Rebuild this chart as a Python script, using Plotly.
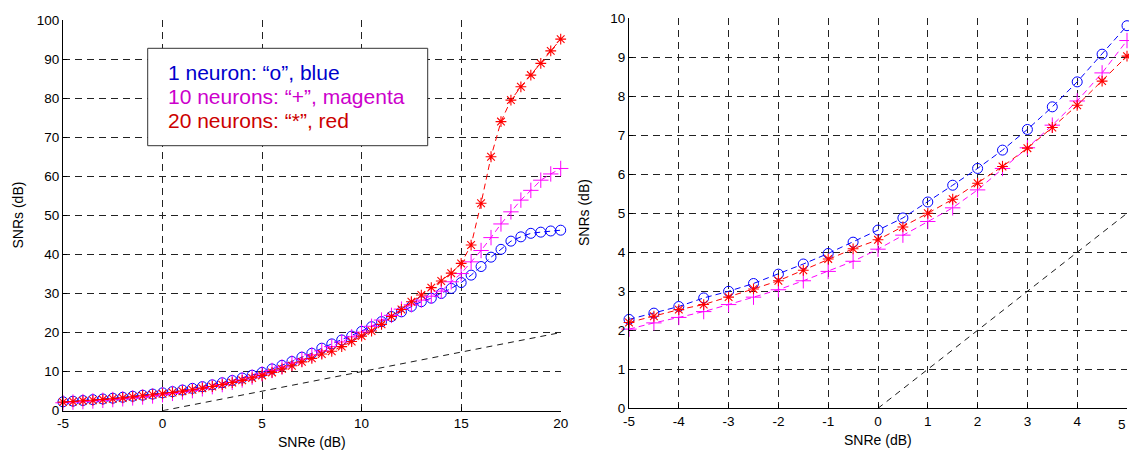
import plotly.graph_objects as go

# ---------------- data ----------------
snre = [-5, -4.5, -4, -3.5, -3, -2.5, -2, -1.5, -1, -0.5, 0, 0.5, 1, 1.5, 2, 2.5, 3, 3.5, 4, 4.5, 5,
        5.5, 6, 6.5, 7, 7.5, 8, 8.5, 9, 9.5, 10, 10.5, 11, 11.5, 12, 12.5, 13, 13.5, 14, 14.5, 15,
        15.5, 16, 16.5, 17, 17.5, 18, 18.5, 19, 19.5, 20]

snrs_1 = [2.28, 2.44, 2.61, 2.83, 3.00, 3.20, 3.44, 3.70, 3.97, 4.26, 4.57, 4.88, 5.29, 5.72, 6.15, 6.62, 7.15, 7.73, 8.37, 9.08, 9.81,
          10.7, 11.6, 12.6, 13.7, 14.7, 16.0, 17.1, 18.1, 19.1, 20.3, 21.5, 22.8, 24.1, 25.3, 26.7, 27.9, 28.8, 30.0, 31.3, 32.8,
          34.7, 36.9, 39.3, 41.3, 43.4, 44.5, 45.4, 45.7, 46.0, 46.2]

snrs_10 = [2.03, 2.19, 2.33, 2.48, 2.66, 2.85, 3.04, 3.27, 3.51, 3.77, 4.08, 4.44, 4.79, 5.14, 5.60, 6.15, 6.68, 7.26, 7.88, 8.60, 9.43,
           10.3, 11.2, 12.2, 13.2, 14.3, 15.3, 16.4, 17.6, 18.9, 20.1, 21.6, 23.2, 24.4, 26.0, 27.1, 28.3, 29.3, 30.6, 33.0, 35.1,
           38.1, 41.0, 44.3, 47.8, 50.9, 53.9, 56.4, 59.0, 60.6, 62.0]

snrs_20 = [2.20, 2.36, 2.53, 2.66, 2.85, 3.06, 3.27, 3.54, 3.83, 4.09, 4.32, 4.65, 5.00, 5.36, 5.77, 6.20, 6.67, 7.20, 7.77, 8.39, 9.03,
           9.8, 10.7, 11.5, 12.5, 13.4, 14.5, 15.2, 16.4, 17.7, 19.1, 20.4, 22.1, 24.1, 25.9, 27.9, 29.6, 31.5, 33.2, 35.2, 37.7,
           42.4, 53.1, 65.0, 74.0, 79.5, 82.9, 85.9, 88.9, 92.1, 95.1]

ref_x = [0, 20]
ref_y = [0, 20]

zoom_n = 21  # points with SNRe <= 5 shown in the right panel

x1_ticks = [-5, 0, 5, 10, 15, 20]
y1_ticks = [0, 10, 20, 30, 40, 50, 60, 70, 80, 90, 100]
x2_ticks = [-5, -4, -3, -2, -1, 0, 1, 2, 3, 4, 5]
y2_ticks = [0, 1, 2, 3, 4, 5, 6, 7, 8, 9, 10]

legend_lines = ['1 neuron: \u201co\u201d, blue',
                '10 neurons: \u201c+\u201d, magenta',
                '20 neurons: \u201c*\u201d, red']
legend_colors = ['#0000CC', '#CC00CC', '#CC0000']

# ---------------- figure ----------------
W, H = 1129, 450
FONT = 'Liberation Sans, Arial, sans-serif'

def px_x(p):
    return p / W

def px_y(p):
    return (H - p) / H

def labels(vals):
    return [str(v) for v in vals]

fig = go.Figure()

series = [
    (snrs_1, '#0000FF', dict(symbol='circle-open', size=10, line=dict(width=1, color='#0000FF'))),
    (snrs_10, '#FF00FF', dict(symbol='cross-thin-open', size=11, line=dict(width=1, color='#FF00FF'))),
    (snrs_20, '#FF0000', dict(symbol='asterisk-open', size=9, line=dict(width=1.1, color='#FF0000'))),
]

for axn, n in (('', len(snre)), ('2', zoom_n)):
    fig.add_trace(go.Scatter(x=ref_x, y=ref_y, mode='lines',
                             line=dict(color='black', width=0.9, dash='6px,5px'),
                             xaxis='x' + axn, yaxis='y' + axn, showlegend=False))
    for ys, col, mk in series:
        fig.add_trace(go.Scatter(x=snre[:n], y=ys[:n], mode='lines+markers',
                                 line=dict(color=col, width=1, dash='6px,4px'),
                                 marker=mk, cliponaxis=False,
                                 xaxis='x' + axn, yaxis='y' + axn, showlegend=False))

axis_common = dict(showline=True, linecolor='black', linewidth=1, mirror=False,
                   ticks='inside', ticklen=4, tickcolor='black', automargin=False,
                   showgrid=True, gridcolor='#222222', gridwidth=1, griddash='7px,5px',
                   zeroline=False, tickfont=dict(family=FONT, size=13.5, color='black'))

fig.update_layout(
    width=W, height=H,
    margin=dict(l=0, r=0, t=0, b=0),
    paper_bgcolor='white', plot_bgcolor='white',
    font=dict(family=FONT, color='black'),
    xaxis=dict(axis_common, domain=[px_x(63), px_x(560.7)], range=[-5, 20],
               tickvals=x1_ticks, ticktext=labels(x1_ticks), anchor='y'),
    yaxis=dict(axis_common, domain=[px_y(410.7), px_y(20)], range=[0, 100],
               tickvals=y1_ticks, ticktext=labels(y1_ticks), anchor='x'),
    xaxis2=dict(axis_common, domain=[px_x(629), px_x(1127)], range=[-5, 5],
                tickvals=x2_ticks, ticktext=labels(x2_ticks), anchor='y2'),
    yaxis2=dict(axis_common, domain=[px_y(408.3), px_y(18.3)], range=[0, 10],
                tickvals=y2_ticks, ticktext=labels(y2_ticks), anchor='x2'),
)

# last right-panel tick label, kept fully inside the page edge
fig.add_annotation(text=labels(x2_ticks)[-1], x=px_x(1128), xref='paper', y=px_y(424), yref='paper',
                   xanchor='right', yanchor='middle', showarrow=False,
                   font=dict(family=FONT, size=13.5, color='black'))

# axis titles
titles = [
    ('SNRe (dB)', px_x(311.5), px_y(442), 0),
    ('SNRs (dB)', px_x(17), px_y(215.5), -90),
    ('SNRe (dB)', px_x(878), px_y(440), 0),
    ('SNRs (dB)', px_x(584), px_y(213), -90),
]
for txt, x, y, ang in titles:
    fig.add_annotation(text=txt, x=x, y=y, xref='paper', yref='paper',
                       xanchor='center', yanchor='middle', showarrow=False,
                       textangle=ang, font=dict(family=FONT, size=14, color='black'))

# legend box (text box)
fig.add_shape(type='rect', xref='paper', yref='paper',
              x0=px_x(147.7), x1=px_x(427.7), y0=px_y(145.7), y1=px_y(48.3),
              line=dict(color='#333333', width=1), fillcolor='white', layer='above')
for i, (txt, col) in enumerate(zip(legend_lines, legend_colors)):
    fig.add_annotation(text=txt, x=px_x(166), y=px_y(72 + 24.5 * i), xref='paper', yref='paper',
                       xanchor='left', yanchor='middle', showarrow=False,
                       font=dict(family=FONT, size=21, color=col))

fig.write_html('out.html')
